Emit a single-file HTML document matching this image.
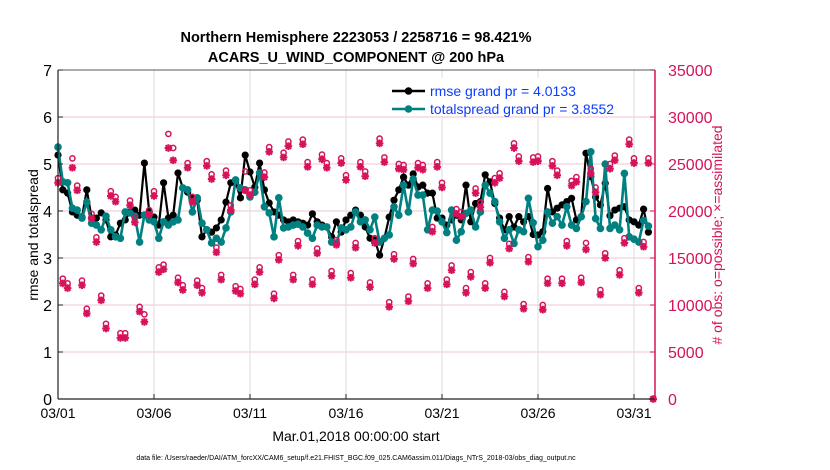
<!DOCTYPE html>
<html><head><meta charset="utf-8">
<style>
html,body{margin:0;padding:0;background:#fff;}
svg{display:block;font-family:"Liberation Sans",Arial,sans-serif;}
</style></head>
<body>
<svg id="chart" width="830" height="470" viewBox="0 0 830 470" xmlns="http://www.w3.org/2000/svg">
  <g id="grid"></g>
  <g id="series"></g>
  <g id="axes"></g>
  <text x="356" y="42" text-anchor="middle" font-size="14.5" font-weight="bold">Northern Hemisphere 2223053 / 2258716 = 98.421%</text>
  <text x="356" y="62" text-anchor="middle" font-size="14.5" font-weight="bold">ACARS_U_WIND_COMPONENT @ 200 hPa</text>
  <text transform="translate(38,235) rotate(-90)" text-anchor="middle" font-size="14">rmse and totalspread</text>
  <text transform="translate(722,235) rotate(-90)" text-anchor="middle" font-size="14" fill="#d6125a"># of obs: o=possible; ×=assimilated</text>
  <text x="356" y="441" text-anchor="middle" font-size="14">Mar.01,2018 00:00:00 start</text>
  <text x="356" y="460" text-anchor="middle" font-size="7">data file: /Users/raeder/DAI/ATM_forcXX/CAM6_setup/f.e21.FHIST_BGC.f09_025.CAM6assim.011/Diags_NTrS_2018-03/obs_diag_output.nc</text>
  <g id="legend"></g>
</svg>
<script>
const xTickLabels = ["03/01","03/06","03/11","03/16","03/21","03/26","03/31"];
const xTickDays = [0,5,10,15,20,25,30];
const yTicks = [0,1,2,3,4,5,6,7];
const y2Ticks = [0,5000,10000,15000,20000,25000,30000,35000];
const stepDays = 0.25;
const rmse = [5.19,4.45,4.38,3.98,3.91,3.87,4.45,3.85,3.85,3.96,3.81,3.45,3.49,3.74,3.81,3.98,4.02,3.91,5.02,3.98,3.87,3.7,4.6,3.85,3.91,4.81,4.49,4.4,4.28,4.23,3.45,3.6,3.55,3.64,3.81,4.19,4.6,4.62,4.28,5.19,4.83,4.51,5.02,4.45,4.17,3.98,3.91,3.81,3.77,3.81,3.77,3.74,3.7,3.94,3.77,3.7,3.66,3.45,3.77,3.55,3.81,3.91,4.02,3.91,3.66,3.42,3.38,3.06,3.42,3.87,4.23,4.45,4.72,4.55,4.79,4.51,4.55,4.38,4.38,3.85,3.85,3.7,3.81,3.91,3.81,4.55,3.77,4.16,4.2,4.77,4.62,4.16,3.85,3.6,3.88,3.66,3.88,3.77,3.88,3.5,3.49,3.56,4.48,3.98,4.06,4.13,4.2,4.27,3.81,3.88,5.23,4.73,4.3,4.13,4.59,3.9,4.02,4.06,4.09,3.81,3.77,3.7,4.04,3.55];
const spread = [5.36,4.62,4.6,4.06,4.02,3.85,4.19,3.74,3.7,3.6,3.89,3.6,3.45,3.42,3.98,3.96,3.89,3.34,3.91,3.81,3.77,3.42,3.77,3.7,3.77,3.81,4.49,4.45,3.98,4.28,3.74,3.6,3.32,3.42,3.34,3.64,3.98,4.66,4.49,4.45,4.3,4.4,4.81,4.09,3.96,3.45,4.28,3.64,3.66,3.7,3.72,3.66,3.53,3.42,3.7,3.66,3.66,3.34,3.32,3.64,3.6,3.66,3.98,3.77,3.81,3.6,3.87,3.34,3.42,3.49,4.09,3.91,4.55,3.98,4.68,4.34,4.34,3.6,4.02,4.0,3.77,3.54,4.02,3.38,3.56,3.95,4.02,3.66,3.98,4.55,4.38,4.2,3.77,3.42,3.6,3.31,3.6,3.56,4.27,3.75,3.24,3.38,3.98,3.74,3.88,3.7,4.09,3.7,3.63,3.88,4.2,5.26,3.84,3.63,5.0,3.63,3.7,3.6,4.8,3.45,3.4,3.34,3.8,3.68];
const obsAssim = [23000,12300,11800,24600,22200,12100,9100,19200,16700,10500,7500,21600,21000,6500,6500,20600,18800,9300,8200,19600,21600,13500,13800,26700,25400,12400,11600,24600,21000,12100,11300,24800,23400,15600,12700,23800,20100,11500,11200,22200,21700,12200,13500,23600,26300,10700,14800,25700,26900,12700,16300,27100,24700,12200,15500,25500,24600,13100,16400,25100,23300,12900,16100,24700,23700,11900,16600,27200,25200,9800,14900,24500,24400,10400,14400,24600,24400,11800,17800,24700,22500,12200,13700,19700,19400,11300,13000,21900,20400,11800,14500,23000,23500,10900,16000,26700,25300,9600,14600,25200,25300,9500,12300,24800,23800,12300,16300,22700,23100,12400,15900,24000,22000,11100,15000,24500,25400,13200,16600,27100,25100,11300,16200,25100,0];
const obsPoss = [23500,12800,12300,25600,22700,12600,9600,19700,17200,11000,8000,22100,21500,7000,7000,21100,19300,9800,9000,20100,22100,14000,14300,28200,26700,12900,12100,25100,21500,12600,11800,25300,23900,16100,13200,24300,20600,12000,11700,24200,22200,12700,14000,24100,26800,11200,15300,26200,27400,13200,16800,27600,25200,12700,16000,26000,25100,13600,16900,25600,23800,13400,16600,25200,24200,12400,17100,27700,25700,10300,15400,25000,24900,10900,14900,25100,24900,12300,18300,25200,23000,12700,14200,20200,19900,11800,13500,22400,20900,12300,15000,23500,24000,11400,16500,27200,25800,10100,15100,25700,25800,10000,12800,25300,24300,12800,16800,23200,23600,12900,16600,24500,22500,11600,15500,25000,25900,13700,17100,27600,25600,11800,16700,25600,0];

const NS='http://www.w3.org/2000/svg';
const L=58,R=655,T=70,B=399;
const pxPerDay=19.2;
function xS(d){return L+d*pxPerDay;}
function yS(v){return B-(v/7)*(B-T);}
function y2S(v){return B-(v/35000)*(B-T);}
function mk(tag,attrs,parent){const e=document.createElementNS(NS,tag);for(const k in attrs)e.setAttribute(k,attrs[k]);parent.appendChild(e);return e;}
const grid=document.getElementById('grid'),axes=document.getElementById('axes'),series=document.getElementById('series'),legend=document.getElementById('legend');

yTicks.forEach(v=>{if(v>0&&v<7){const g=mk('line',{x1:L,x2:R,y1:yS(v),y2:yS(v),stroke:'#f2c6d6','stroke-width':1},grid);

}
const t=mk('text',{x:L-6,y:yS(v)+6,'text-anchor':'end','font-size':16},axes);t.textContent=v;


mk('line',{x1:L,x2:L+5,y1:yS(v),y2:yS(v),stroke:'#222'},axes);});
xTickDays.forEach((d,i)=>{const g=mk('line',{x1:xS(d),x2:xS(d),y1:T,y2:B,stroke:'#dcdcdc','stroke-width':1},grid);


mk('line',{x1:xS(d),x2:xS(d),y1:B,y2:B-5,stroke:'#222'},axes);
const t=mk('text',{x:xS(d),y:B+19,'text-anchor':'middle','font-size':14},axes);t.textContent=xTickLabels[i];

});
y2Ticks.forEach(v=>{mk('line',{x1:R,x2:R-5,y1:y2S(v),y2:y2S(v),stroke:'#d6125a'},axes);
const t=mk('text',{x:668,y:y2S(v)+6,'font-size':16,fill:'#d6125a'},axes);t.textContent=v;

});
const f1=mk('line',{x1:L,x2:L,y1:T,y2:B,stroke:'#222','stroke-width':1.2},axes);


mk('line',{x1:L,x2:R,y1:B,y2:B,stroke:'#222','stroke-width':1.2},axes);
mk('line',{x1:L,x2:R,y1:T,y2:T,stroke:'#222','stroke-width':0.8},axes);
const f2=mk('line',{x1:R,x2:R,y1:T,y2:B,stroke:'#d6125a','stroke-width':1.5},axes);



function drawLine(arr,color,name,w,r){
  const pts=arr.map((v,i)=>xS(i*stepDays).toFixed(1)+','+yS(v).toFixed(1)).join(' ');
  const pl=mk('polyline',{points:pts,fill:'none',stroke:color,'stroke-width':w,'stroke-linejoin':'round'},series);
  
  
  arr.forEach((v,i)=>{const c=mk('circle',{cx:xS(i*stepDays),cy:yS(v),r:r,fill:color},series);
  
  });
}
drawLine(rmse,'#000','rmse',2.2,3.6);
drawLine(spread,'#008080','totalspread',2.6,3.8);

const pink='#d6125a';
obsPoss.forEach((v,i)=>{const c=mk('circle',{cx:xS(i*stepDays),cy:y2S(v),r:2.6,fill:'none',stroke:pink,'stroke-width':1.5},series);

});
obsAssim.forEach((v,i)=>{const cx=xS(i*stepDays),cy=y2S(v),s=3.8,d=2.8;
const g=mk('path',{d:`M${cx-s},${cy}H${cx+s}M${cx},${cy-s}V${cy+s}M${cx-d},${cy-d}L${cx+d},${cy+d}M${cx-d},${cy+d}L${cx+d},${cy-d}`,stroke:pink,'stroke-width':2,fill:'none'},series);

});

const lg=mk('rect',{x:386,y:78,width:170,height:38,fill:'#fff',stroke:'none'},legend);


[['rmse grand pr = 4.0133','#000',91],['totalspread grand pr = 3.8552','#008080',109]].forEach(([txt,c,y])=>{
 const e=mk('g',{},legend);
 
 
 mk('line',{x1:392,x2:425,y1:y,y2:y,stroke:c,'stroke-width':2.4},e);
 mk('circle',{cx:408.5,cy:y,r:3.8,fill:c},e);
 const t=mk('text',{x:430,y:y+5,'font-size':14,fill:'#0a3cff'},e);t.textContent=txt;});
</script>
</body></html>
